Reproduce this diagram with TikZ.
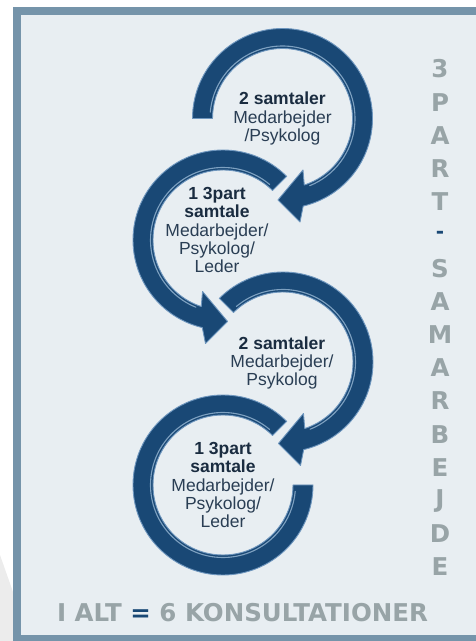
\documentclass[tikz,border=0pt]{standalone}
\usepackage{fontspec}
\setmainfont{Liberation Sans}
\newfontfamily\sidefont{DejaVu Sans}
\usetikzlibrary{calc}
\definecolor{framecol}{RGB}{117,148,170}
\definecolor{paper}{RGB}{232,238,242}
\definecolor{navy}{RGB}{25,72,117}
\definecolor{rimcol}{RGB}{110,150,190}
\definecolor{glint}{RGB}{170,200,226}
\definecolor{labelcol}{RGB}{42,62,84}
\definecolor{boldcol}{RGB}{26,44,64}
\definecolor{greycol}{RGB}{152,164,167}
\definecolor{backshade}{RGB}{236,236,236}

\begin{document}
\begin{tikzpicture}[x=1pt,y=1pt,
    arrowbody/.style={fill=navy, draw=rimcol, line width=0.9pt, line join=round},
    innerglint/.style={draw=glint, line width=1.1pt, opacity=0.7, line cap=round},
    talk/.style={align=center, text=labelcol, font=\fontsize{17.5}{18.3}\selectfont},
    sideletter/.style={text=greycol, font=\sidefont\bfseries\fontsize{24.5}{25}\selectfont}]
    \useasboundingbox (0,0) rectangle (476,641);
    \fill[backshade] (0,86) -- (13,49) -- (13,0) -- (0,0) -- cycle;
    \fill[framecol] (13,-5) rectangle (480,634);
    \fill[paper] (21,6) rectangle (480,626);
    % centres of the four rings
    \coordinate (c1) at (282.5,522.5);
    \coordinate (c2) at (223,401);
    \coordinate (c3) at (283,279);
    \coordinate (c4) at (223,156);
    % first ring, clockwise
    \filldraw[arrowbody] ($(c1)+(180:90)$) arc[start angle=180, end angle=-76.7, radius=90]
        -- ($(c1)+(-80.4:105)$) -- ($(c1)+(-93.2:81.6)$) -- ($(c1)+(-68.3:55.4)$)
        -- ($(c1)+(-71.9:70)$) arc[start angle=-71.9, end angle=180, radius=70] -- cycle;
    \draw[innerglint] ($(c1)+(175:72.5)$) arc[start angle=175, end angle=-68, radius=72.5];
    % second ring, anticlockwise
    \filldraw[arrowbody] ($(c2)+(45:90)$) arc[start angle=45, end angle=256.7, radius=90]
        -- ($(c2)+(260.4:105)$) -- ($(c2)+(273.2:81.6)$) -- ($(c2)+(248.3:55.4)$)
        -- ($(c2)+(251.9:70)$) arc[start angle=251.9, end angle=45, radius=70] -- cycle;
    \draw[innerglint] ($(c2)+(50:72.5)$) arc[start angle=50, end angle=248, radius=72.5];
    % third ring, clockwise
    \filldraw[arrowbody] ($(c3)+(135:90)$) arc[start angle=135, end angle=-76.7, radius=90]
        -- ($(c3)+(-80.4:105)$) -- ($(c3)+(-93.2:81.6)$) -- ($(c3)+(-68.3:55.4)$)
        -- ($(c3)+(-71.9:70)$) arc[start angle=-71.9, end angle=135, radius=70] -- cycle;
    \draw[innerglint] ($(c3)+(130:72.5)$) arc[start angle=130, end angle=-68, radius=72.5];
    % last ring, no head
    \filldraw[arrowbody] ($(c4)+(45:90)$) arc[start angle=45, end angle=360, radius=90]
        -- ($(c4)+(0:70)$) arc[start angle=360, end angle=45, radius=70] -- cycle;
    \draw[innerglint] ($(c4)+(50:72.5)$) arc[start angle=50, end angle=355, radius=72.5];
    \node[talk] (t1) at (282.5,522.5) {\textcolor{boldcol}{\textbf{2 samtaler}}\\Medarbejder\\/Psykolog};
    \node[talk] (t2) at (217,411) {\textcolor{boldcol}{\textbf{1 3part}}\\\textcolor{boldcol}{\textbf{samtale}}\\Medarbejder/\\Psykolog/\\Leder};
    \node[talk] (t3) at (282,278) {\textcolor{boldcol}{\textbf{2 samtaler}}\\Medarbejder/\\Psykolog};
    \node[talk] (t4) at (223,156) {\textcolor{boldcol}{\textbf{1 3part}}\\\textcolor{boldcol}{\textbf{samtale}}\\Medarbejder/\\Psykolog/\\Leder};
    % letters down the right side
    \foreach \ch [count=\i from 0] in {3,P,A,R,T,{\textcolor{navy}{\fontsize{20}{20}\selectfont-}},S,A,M,A,R,B,E,J,D,E}
        \node[sideletter] (s\i) at (440,572-33.2*\i) {\ch};
    \node[sideletter] (total) at (242.5,28) {I ALT \textcolor{navy}{=} 6 KONSULTATIONER};
\end{tikzpicture}
\end{document}
